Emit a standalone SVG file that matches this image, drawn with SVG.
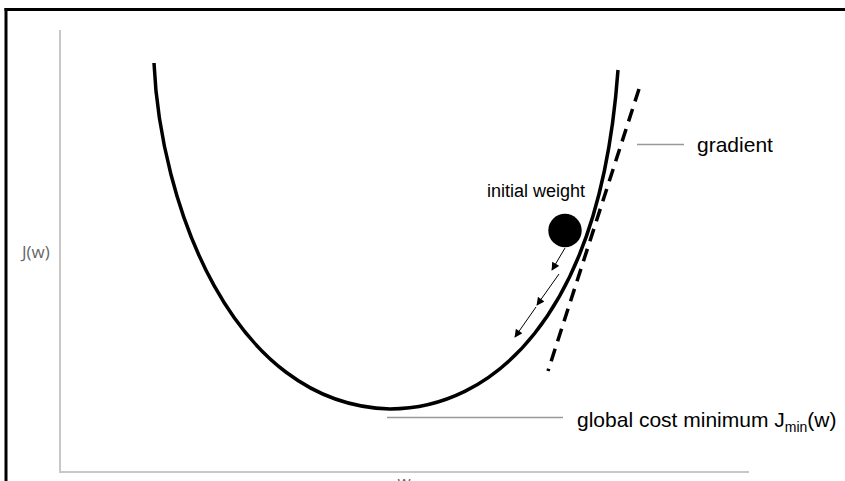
<svg xmlns="http://www.w3.org/2000/svg" width="845" height="481" viewBox="0 0 845 481">
<style>
.frame{stroke:#000;stroke-width:3;fill:none}
.axis{stroke:#c8c8c8;stroke-width:2;fill:none}
.leader{stroke:#999;stroke-width:1.6;fill:none}
.curve{stroke:#000;stroke-width:3.5;fill:none;stroke-linecap:butt}
.tangent{stroke:#000;stroke-width:3.5;fill:none;stroke-dasharray:13 8}
.step{stroke:#000;stroke-width:1;fill:none;marker-end:url(#ah)}
.lbl{font-family:"Liberation Sans",Arial,sans-serif;fill:#000}
.axlbl{font-family:"Open Sans","Liberation Sans",sans-serif;fill:#666}
</style>
<defs>
<marker id="ah" viewBox="0 0 10 10" refX="9" refY="5" markerWidth="9" markerHeight="8" markerUnits="userSpaceOnUse" orient="auto">
<path d="M0,0 L10,5 L0,10 z" fill="#000"/>
</marker>
</defs>
<rect width="845" height="481" fill="#fff"/>
<g id="frame">
<line class="frame" x1="4.5" y1="9.5" x2="845" y2="9.5"/>
<line class="frame" x1="6" y1="8" x2="6" y2="481"/>
</g>
<g id="axes">
<line class="axis" x1="60" y1="30" x2="60" y2="473"/>
<line class="axis" x1="59" y1="472" x2="749" y2="472"/>
<text class="axlbl" x="22" y="258" font-size="17">J(w)</text>
<text class="axlbl" x="404" y="488" font-size="17" text-anchor="middle">w</text>
</g>
<g id="cost-curve">
<path class="curve" d="M154,63 C160,200 230,405 390,409 C490,409 600,320 618,70"/>
</g>
<g id="gradient-line">
<line class="tangent" x1="639" y1="89" x2="548" y2="371"/>
</g>
<g id="initial-weight">
<circle cx="565" cy="230.5" r="16.7" fill="#000"/>
<text class="lbl" x="487" y="197" font-size="18">initial weight</text>
</g>
<g id="connectors">
<line class="step" x1="565" y1="248" x2="552" y2="270"/>
<line class="step" x1="559" y1="274" x2="537" y2="305"/>
<line class="step" x1="536" y1="307" x2="515" y2="337"/>
<line class="leader" x1="637" y1="144.5" x2="684" y2="144.5"/>
<line class="leader" x1="387" y1="417.5" x2="563" y2="417.5"/>
</g>
<g id="gradient-label">
<text class="lbl" x="697" y="152" font-size="21">gradient</text>
</g>
<g id="minimum-label">
<text class="lbl" x="577" y="427" font-size="21">global cost minimum J<tspan font-size="14" dy="5">min</tspan><tspan dy="-5">(w)</tspan></text>
</g>
</svg>
